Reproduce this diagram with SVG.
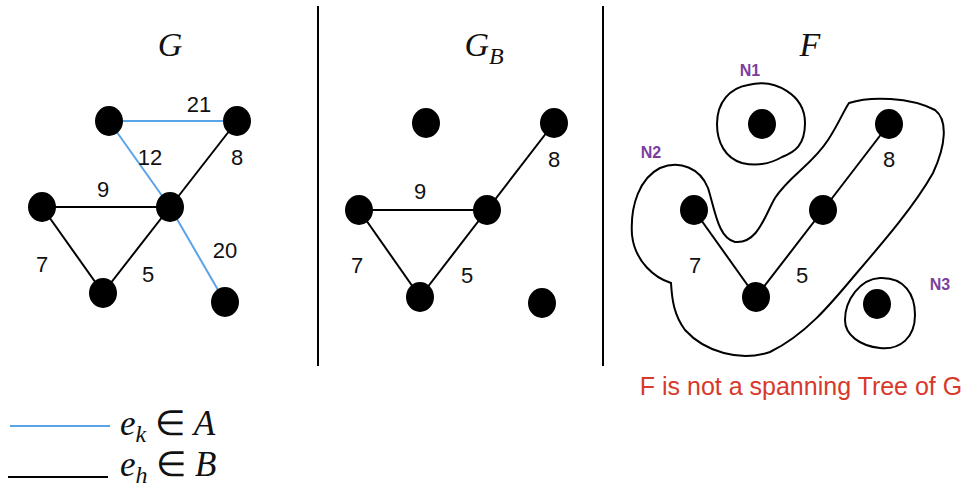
<svg xmlns="http://www.w3.org/2000/svg" width="966" height="489" viewBox="0 0 966 489">
<style>
.n{fill:#000}
.e{stroke:#000;stroke-width:2;fill:none}
.b{stroke:#59a3e8;stroke-width:2;fill:none}
.lbl{font-family:"Liberation Sans",Arial,sans-serif;font-size:22px;fill:#111;text-anchor:middle}
.ttl{font-family:"Liberation Serif","Times New Roman",serif;font-style:italic;font-size:34px;fill:#111;text-anchor:middle}
.nm{font-family:"Liberation Sans",Arial,sans-serif;font-weight:bold;font-size:16px;fill:#7b3f9e;text-anchor:middle}
.blob{stroke:#000;stroke-width:2;fill:none}
.math{font-family:"Liberation Serif","Times New Roman",serif;font-size:35px;fill:#111}
</style>
<rect width="966" height="489" fill="#fff"/>
<g id="dividers">
<line x1="318" y1="6" x2="318" y2="366" stroke="#000" stroke-width="2"/>
<line x1="603" y1="6" x2="603" y2="366" stroke="#000" stroke-width="2"/>
</g>
<g id="titles">
<text class="ttl" x="170" y="56">G</text>
<text class="ttl" x="484" y="56">G<tspan font-size="24" dy="8">B</tspan></text>
<text class="ttl" x="810" y="56">F</text>
</g>
<g id="connectors">
<line class="b" x1="109" y1="121" x2="237" y2="121"/>
<line class="b" x1="109" y1="121" x2="170" y2="207"/>
<line class="b" x1="170" y1="207" x2="225" y2="302"/>
<line class="e" x1="237" y1="121" x2="170" y2="207"/>
<line class="e" x1="42" y1="207" x2="170" y2="207"/>
<line class="e" x1="42" y1="207" x2="103" y2="293"/>
<line class="e" x1="103" y1="293" x2="170" y2="207"/>
<line class="e" x1="554" y1="123" x2="487" y2="210"/>
<line class="e" x1="359" y1="210" x2="487" y2="210"/>
<line class="e" x1="359" y1="210" x2="420" y2="297"/>
<line class="e" x1="420" y1="297" x2="487" y2="210"/>
<line class="e" x1="694" y1="210" x2="756" y2="297"/>
<line class="e" x1="756" y1="297" x2="823" y2="210"/>
<line class="e" x1="823" y1="210" x2="889" y2="124"/>
</g>
<g id="edge-labels">
<text class="lbl" x="199" y="112">21</text>
<text class="lbl" x="150" y="165">12</text>
<text class="lbl" x="237" y="165">8</text>
<text class="lbl" x="103" y="197">9</text>
<text class="lbl" x="42" y="272">7</text>
<text class="lbl" x="148" y="282">5</text>
<text class="lbl" x="225" y="258">20</text>
<text class="lbl" x="554" y="167">8</text>
<text class="lbl" x="420" y="199">9</text>
<text class="lbl" x="357" y="273">7</text>
<text class="lbl" x="467" y="283">5</text>
<text class="lbl" x="889" y="167">8</text>
<text class="lbl" x="695" y="273">7</text>
<text class="lbl" x="802" y="283">5</text>
</g>
<g id="G-nodes">
<ellipse id="g1" class="n" cx="109" cy="121" rx="14" ry="15"/>
<ellipse id="g2" class="n" cx="237" cy="121" rx="14" ry="15"/>
<ellipse id="g3" class="n" cx="42" cy="207" rx="14" ry="15"/>
<ellipse id="g4" class="n" cx="170" cy="207" rx="14" ry="15"/>
<ellipse id="g5" class="n" cx="103" cy="293" rx="14" ry="15"/>
<ellipse id="g6" class="n" cx="225" cy="302" rx="14" ry="15"/>
</g>
<g id="GB-nodes">
<ellipse id="b1" class="n" cx="426" cy="123" rx="14" ry="15"/>
<ellipse id="b2" class="n" cx="554" cy="123" rx="14" ry="15"/>
<ellipse id="b3" class="n" cx="359" cy="210" rx="14" ry="15"/>
<ellipse id="b4" class="n" cx="487" cy="210" rx="14" ry="15"/>
<ellipse id="b5" class="n" cx="420" cy="297" rx="14" ry="15"/>
<ellipse id="b6" class="n" cx="542" cy="303" rx="14" ry="15"/>
</g>
<g id="F-nodes">
<ellipse id="f1" class="n" cx="762" cy="124" rx="14" ry="15"/>
<ellipse id="f2" class="n" cx="889" cy="124" rx="14" ry="15"/>
<ellipse id="f3" class="n" cx="694" cy="210" rx="14" ry="15"/>
<ellipse id="f4" class="n" cx="823" cy="210" rx="14" ry="15"/>
<ellipse id="f5" class="n" cx="756" cy="297" rx="14" ry="15"/>
<ellipse id="f6" class="n" cx="877" cy="304" rx="14" ry="15"/>
</g>
<g id="N1">
<path class="blob" d="M748,85 C775,78 805,95 805,123 C805,145 795,152 782,157 C770,164 755,166 742,163 C725,158 717,142 717,124 C717,102 730,88 748,85 Z"/>
<text class="nm" x="750" y="76">N1</text>
</g>
<g id="N2">
<path class="blob" d="M849,103 C870,96 910,97 935,110 C948,120 946,145 933,173 C915,205 885,240 855,275 C830,305 805,335 770,352 C740,362 705,352 685,330 C674,315 672,300 671,283 C655,278 635,262 632,235 C630,205 640,178 660,168 C680,160 700,168 708,188 C715,210 718,238 735,242 C758,244 765,215 775,198 C790,175 812,165 828,140 C838,125 843,112 849,103 Z"/>
<text class="nm" x="651" y="158">N2</text>
</g>
<g id="N3">
<path class="blob" d="M880,278 C905,277 915,295 915,315 C915,338 900,350 880,348 C860,346 845,335 845,320 C845,300 860,279 880,278 Z"/>
<text class="nm" x="940" y="290">N3</text>
</g>
<text x="801" y="395" font-family="'Liberation Sans',Arial,sans-serif" font-size="25" fill="#d8392a" text-anchor="middle">F is not a spanning Tree of G</text>
<g id="legend">
<line x1="10" y1="426" x2="110" y2="426" stroke="#59a3e8" stroke-width="2"/>
<line x1="8" y1="477" x2="108" y2="477" stroke="#000" stroke-width="2"/>
<text class="math" x="120" y="435"><tspan font-style="italic">e</tspan><tspan font-style="italic" font-size="24" dy="7">k</tspan><tspan dy="-7"> ∈ </tspan><tspan font-style="italic">A</tspan></text>
<text class="math" x="120" y="476"><tspan font-style="italic">e</tspan><tspan font-style="italic" font-size="24" dy="7">h</tspan><tspan dy="-7"> ∈ </tspan><tspan font-style="italic">B</tspan></text>
</g>
</svg>
